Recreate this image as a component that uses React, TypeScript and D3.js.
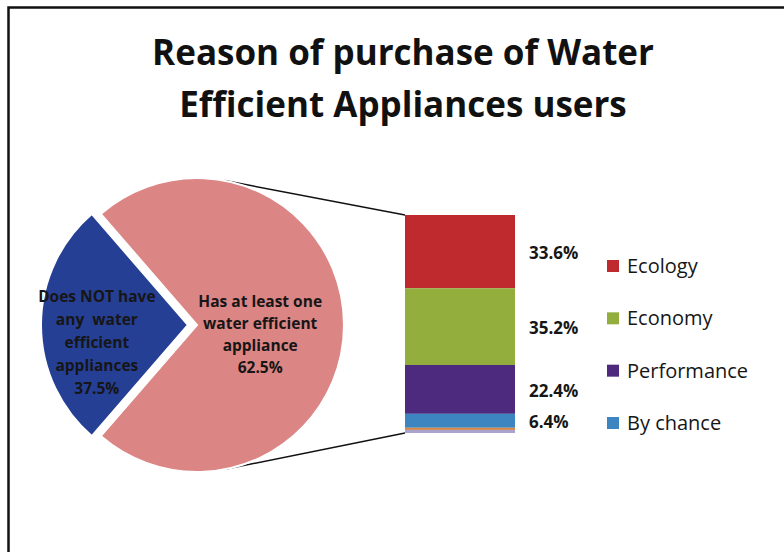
import React from "react";
import * as d3 from "d3";

const titleLines = ["Reason of purchase of Water", "Efficient Appliances users"];

const pieCategories = [
  "Has at least one water efficient appliance",
  "Does NOT have any water efficient appliances",
];
const pieShares = [62.5, 37.5];
const pieLabelLines = [
  ["Has at least one", "water efficient", "appliance", "62.5%"],
  ["Does NOT have", "any  water", "efficient", "appliances", "37.5%"],
];
const pieColors = ["#DC8585", "#253F95"];

const barCategories = ["Ecology", "Economy", "Performance", "By chance", "Other A", "Other B"];
const barValues = [33.6, 35.2, 22.4, 6.4, 1.0, 1.4];
const barColors = ["#BE2A2E", "#93AE3C", "#4E2A7E", "#3C85C0", "#D9894A", "#A9A3CF"];
const legendItems = ["Ecology", "Economy", "Performance", "By chance"];

const W = 784;
const H = 552;
const FONT = "'Open Sans', 'DejaVu Sans', sans-serif";

export default function App() {
  // Pie geometry: the "other" slice is the sum of the bar's values (bar-of-pie)
  const pieValues = [d3.sum(barValues), pieShares[1]];
  const blueSpan = (2 * Math.PI * pieValues[1]) / d3.sum(pieValues);
  const start = -Math.PI / 2 + blueSpan / 2;
  const pie = d3.pie<number>().sort(null).value((d) => d).startAngle(start).endAngle(start + 2 * Math.PI);
  const arcsData = pie(pieValues);

  const cx = 197;
  const cy = 325;
  const r = 147;
  const explode = 9;
  const arc = d3.arc<d3.PieArcDatum<number>>().innerRadius(0).outerRadius(r);

  const offsets = arcsData.map((a, i) => {
    if (i !== 1) return [0, 0];
    const m = (a.startAngle + a.endAngle) / 2;
    return [Math.sin(m) * explode, -Math.cos(m) * explode];
  });

  const labelK = [0.43, 0.62];
  const labelDy = [10, 18];
  const labelStep = [22, 23];

  // Bar
  const bx0 = 405;
  const bx1 = 515;
  const y = d3.scaleLinear().domain([0, d3.sum(barValues)]).range([215, 433]);
  const cum = d3.cumsum(barValues);
  const segs = barValues.map((v, i) => ({ v, i, y0: y(cum[i] - v), y1: y(cum[i]) }));

  // Connector lines: tangents from bar corners to pie circle
  const tangent = (px: number, py: number, sign: number) => {
    const dx = px - cx;
    const dy = py - cy;
    const d = Math.hypot(dx, dy);
    const th = Math.atan2(dy, dx);
    const al = Math.acos(r / d);
    const a = th + sign * al;
    return [cx + r * Math.cos(a), cy + r * Math.sin(a)];
  };
  const tTop = tangent(bx0, y(0), -1);
  const tBot = tangent(bx0, y(d3.sum(barValues)), 1);

  const legendY = d3.scaleLinear().domain([0, 3]).range([266, 423]);

  return (
    <svg
      width={W}
      height={H}
      style={{ position: "absolute", left: 0, top: 0, background: "#fff" }}
      fontFamily={FONT}
    >
      <rect x={0} y={0} width={W} height={H} fill="#fff" />
      <rect x={8.5} y={7.5} width={W + 20} height={H + 20} fill="none" stroke="#111" strokeWidth={2.5} />

      {titleLines.map((t, i) => (
        <text
          key={i}
          x={403}
          y={65 + i * 52}
          textAnchor="middle"
          fontSize={35}
          fontWeight={700}
          fill="#111"
        >
          {t}
        </text>
      ))}

      {/* connector lines */}
      <line x1={tTop[0]} y1={tTop[1]} x2={bx0} y2={y(0)} stroke="#111" strokeWidth={1.5} />
      <line x1={tBot[0]} y1={tBot[1]} x2={bx0} y2={y(d3.sum(barValues))} stroke="#111" strokeWidth={1.5} />

      {/* pie */}
      {arcsData.map((a, i) => (
        <g key={pieCategories[i]} transform={`translate(${cx + offsets[i][0]},${cy + offsets[i][1]})`}>
          <path d={arc(a) || ""} fill={pieColors[i]} stroke="#fff" strokeWidth={2} />
        </g>
      ))}
      {arcsData.map((a, i) => {
        const la = d3.arc<d3.PieArcDatum<number>>().innerRadius(r * labelK[i]).outerRadius(r * labelK[i]);
        const [lx, ly] = la.centroid(a);
        const lines = pieLabelLines[i];
        const x0 = cx + offsets[i][0] + lx;
        const yc = cy + offsets[i][1] + ly + labelDy[i];
        const top = yc - ((lines.length - 1) * labelStep[i]) / 2;
        return (
          <g key={"l" + i}>
            {lines.map((t, j) => (
              <text
                key={j}
                x={x0}
                y={top + j * labelStep[i]}
                dy="0.35em"
                textAnchor="middle"
                fontSize={15.5}
                fontWeight={700}
                fill="#161616"
                style={{ whiteSpace: "pre" }}
              >
                {t}
              </text>
            ))}
          </g>
        );
      })}

      {/* bar */}
      {segs.map((s) => (
        <rect key={barCategories[s.i]} x={bx0} y={s.y0} width={bx1 - bx0} height={s.y1 - s.y0} fill={barColors[s.i]} />
      ))}
      {segs.slice(0, 4).map((s) => (
        <text
          key={"p" + s.i}
          x={529}
          y={(s.y0 + s.y1) / 2 + 1.5}
          dy="0.35em"
          fontSize={17}
          fontWeight={700}
          fill="#161616"
        >
          {s.v.toFixed(1) + "%"}
        </text>
      ))}

      {/* legend */}
      {legendItems.map((name, i) => (
        <g key={name} transform={`translate(607,${legendY(i)})`}>
          <rect x={0} y={-6} width={12} height={12} fill={barColors[i]} />
          <text x={20} y={0} dy="0.35em" fontSize={20} fill="#161616">
            {name}
          </text>
        </g>
      ))}
    </svg>
  );
}
